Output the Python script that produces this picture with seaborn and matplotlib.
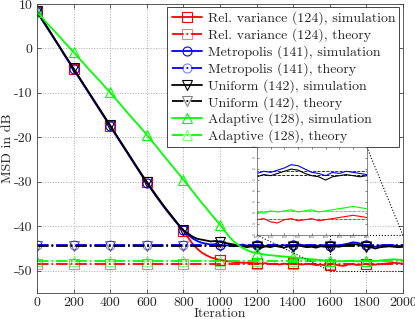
import numpy as np
import matplotlib
matplotlib.use("Agg")
import matplotlib.pyplot as plt
import seaborn as sns
from mpl_toolkits.axes_grid1.inset_locator import mark_inset

# ---------------- data ----------------
iterations = list(range(0, 2001, 25))

rel_sim = [8.3, 6.7, 5.1, 3.5, 1.9, 0.3, -1.4, -3.0, -4.6, -6.2, -7.8, -9.4, -11.0, -12.6, -14.2,
           -15.8, -17.4, -19.0, -20.6, -22.2, -23.8, -25.4, -27.0, -28.5, -30.0, -31.5, -33.0,
           -34.4, -35.8, -37.1, -38.4, -39.7, -41.0, -42.5, -43.9, -45.0, -45.9, -46.5, -47.0,
           -47.3, -47.6, -47.8, -47.9, -48.0, -48.1, -48.2, -48.2, -48.3, -48.3, -48.4, -48.3,
           -48.5, -48.4, -48.6, -48.4, -48.5, -48.3, -48.5, -48.6, -48.4, -48.5, -48.7, -48.6,
           -48.8, -48.6, -48.5, -48.8, -48.9, -48.6, -48.5, -48.7, -48.6, -48.5, -48.7, -48.6,
           -48.5, -48.4, -48.3, -48.2, -48.3, -48.4]

metro_sim = [8.3, 6.6, 5.0, 3.4, 1.8, 0.2, -1.5, -3.1, -4.7, -6.3, -7.9, -9.5, -11.1, -12.7, -14.3,
             -15.9, -17.5, -19.1, -20.7, -22.3, -23.9, -25.5, -27.1, -28.7, -30.2, -31.7, -33.2,
             -34.6, -36.0, -37.3, -38.6, -39.8, -40.9, -41.9, -42.7, -43.3, -43.7, -43.9, -44.1,
             -44.0, -44.2, -44.4, -44.2, -44.5, -44.3, -44.1, -44.4, -44.6, -44.3, -44.2, -44.5,
             -44.3, -44.1, -44.4, -44.2, -44.5, -44.3, -44.0, -44.2, -44.4, -44.3, -44.5, -44.2,
             -44.3, -44.4, -44.2, -44.3, -44.1, -43.9, -43.6, -43.7, -44.0, -44.3, -44.4, -44.6,
             -44.3, -44.4, -44.2, -44.3, -44.4, -44.5]

unif_sim = [8.4, 6.8, 5.2, 3.6, 1.9, 0.3, -1.3, -2.9, -4.5, -6.1, -7.7, -9.3, -10.9, -12.5, -14.1,
            -15.7, -17.3, -18.9, -20.5, -22.1, -23.7, -25.3, -26.9, -28.5, -30.0, -31.5, -33.0,
            -34.4, -35.8, -37.1, -38.4, -39.7, -40.9, -41.6, -42.3, -42.8, -43.0, -43.2, -43.4,
            -43.3, -43.5, -43.7, -43.9, -44.1, -44.3, -44.5, -44.7, -44.4, -44.6, -44.8, -44.5,
            -44.7, -44.4, -44.6, -44.8, -44.5, -44.6, -44.3, -44.5, -44.7, -44.6, -44.8, -44.5,
            -44.6, -44.7, -44.5, -44.6, -44.4, -44.2, -44.0, -44.1, -44.4, -44.6, -44.7, -45.0,
            -44.7, -44.6, -44.5, -44.6, -44.7, -44.6]

adapt_sim = [8.2, 7.1, 5.9, 4.8, 3.7, 2.6, 1.4, 0.3, -0.8, -2.0, -3.1, -4.3, -5.4, -6.5, -7.6,
             -8.8, -9.9, -11.1, -12.3, -13.5, -14.7, -15.9, -17.0, -18.2, -19.4, -20.7, -21.9,
             -23.2, -24.5, -25.7, -27.0, -28.2, -29.5, -30.8, -32.1, -33.4, -34.7, -35.9, -37.2,
             -38.4, -39.6, -41.0, -42.3, -43.4, -44.2, -44.9, -45.4, -45.8, -46.0, -46.2, -46.4,
             -46.5, -46.6, -46.7, -46.8, -46.9, -47.0, -47.1, -47.2, -47.3, -47.4, -47.5, -47.6,
             -47.7, -47.9, -48.0, -47.8, -47.9, -47.8, -47.7, -47.9, -47.8, -47.7, -47.9, -47.8,
             -47.7, -47.6, -47.5, -47.4, -47.5, -47.6]

rel_theory = -48.5
metro_theory = -44.2
unif_theory = -44.5
adapt_theory = -47.8

labels = ["Rel. variance (124)", "Metropolis (141)", "Uniform (142)", "Adaptive (128)"]
colors = ["#ff0000", "#0000ff", "#000000", "#00ff00"]
markers = ["s", "o", "v", "^"]

x_ticks = list(range(0, 2001, 200))
y_ticks = list(range(-50, 11, 10))

# ---------------- style ----------------
sns.set_style("ticks")
plt.rcParams["font.family"] = ["cmr10", "DejaVu Serif"]
plt.rcParams["axes.unicode_minus"] = False
plt.rcParams["axes.formatter.use_mathtext"] = False
plt.rcParams["mathtext.fontset"] = "cm"

fig = plt.figure(figsize=(4.15, 3.19), dpi=100)
ax = fig.add_axes([0.089, 0.0815, 0.882, 0.906])

sims = [rel_sim, metro_sim, unif_sim, adapt_sim]
theories = [rel_theory, metro_theory, unif_theory, adapt_theory]
mk_every = slice(0, 80, 8)

for lab, col, mk, sim, th in zip(labels, colors, markers, sims, theories):
    sns.lineplot(x=iterations, y=sim, ax=ax, color=col, linewidth=1.3,
                 marker=mk, markersize=6.5, markerfacecolor="none",
                 markeredgecolor=col, markeredgewidth=0.8, markevery=mk_every,
                 label=f"{lab}, simulation", estimator=None, sort=False)
    th_vals = [th] * len(iterations)
    sns.lineplot(x=iterations, y=th_vals, ax=ax, color=col, linewidth=1.3,
                 linestyle="-.", marker=mk, markersize=6.5, markerfacecolor="none",
                 markeredgecolor=matplotlib.colors.to_rgba(col, 0.5), markeredgewidth=0.8,
                 markevery=mk_every, label=f"{lab}, theory", estimator=None, sort=False)

ax.set_xlim(0, 2000)
ax.set_ylim(-55, 10)
ax.set_xticks(x_ticks)
ax.set_yticks(y_ticks)
ax.set_yticklabels([str(v) for v in y_ticks])
ax.set_xticklabels([str(v) for v in x_ticks])
ax.tick_params(direction="in", top=True, right=True, labelsize=10, length=3, width=0.5, pad=3)
ax.grid(True, linestyle=":", color="#aaaaaa", linewidth=0.7)
for s in ax.spines.values():
    s.set_linewidth(0.6)
    s.set_color("#444444")
ax.set_xlabel("Iteration", fontsize=10, labelpad=-1)
ax.set_ylabel("MSD in dB", fontsize=10, labelpad=0)

leg = ax.legend(loc="upper right", fontsize=10, frameon=True, fancybox=False,
                edgecolor="#444444", framealpha=1, labelspacing=0.22, handlelength=2.2,
                handletextpad=0.4, borderpad=0.3, borderaxespad=0.25)
leg.get_frame().set_linewidth(0.7)

# ---------------- inset ----------------
axins = fig.add_axes([0.619, 0.263, 0.265, 0.276])
for col, sim, th in zip(colors, sims, theories):
    sns.lineplot(x=iterations, y=sim, ax=axins, color=col, linewidth=0.8,
                 estimator=None, sort=False, legend=False)
    sns.lineplot(x=iterations, y=[th] * len(iterations), ax=axins, color=col,
                 linewidth=0.6, linestyle="--", estimator=None, sort=False, legend=False)
axins.set_xlim(1600, 2000)
axins.set_ylim(-50, -42)
axins.set_xticks(list(range(1600, 2001, 50)))
axins.set_yticks(list(range(-50, -41, 1)))
axins.tick_params(direction="in", top=True, right=True, labelsize=2.2, length=1.5,
                  width=0.4, pad=0.8)
axins.set_xlabel("")
axins.set_ylabel("")
for s in axins.spines.values():
    s.set_linewidth(0.5)
    s.set_color("#555555")
mark_inset(ax, axins, loc1=1, loc2=3, fc="none", ec="black", linestyle=":", linewidth=0.8)

fig.savefig("out.png", dpi=100)
